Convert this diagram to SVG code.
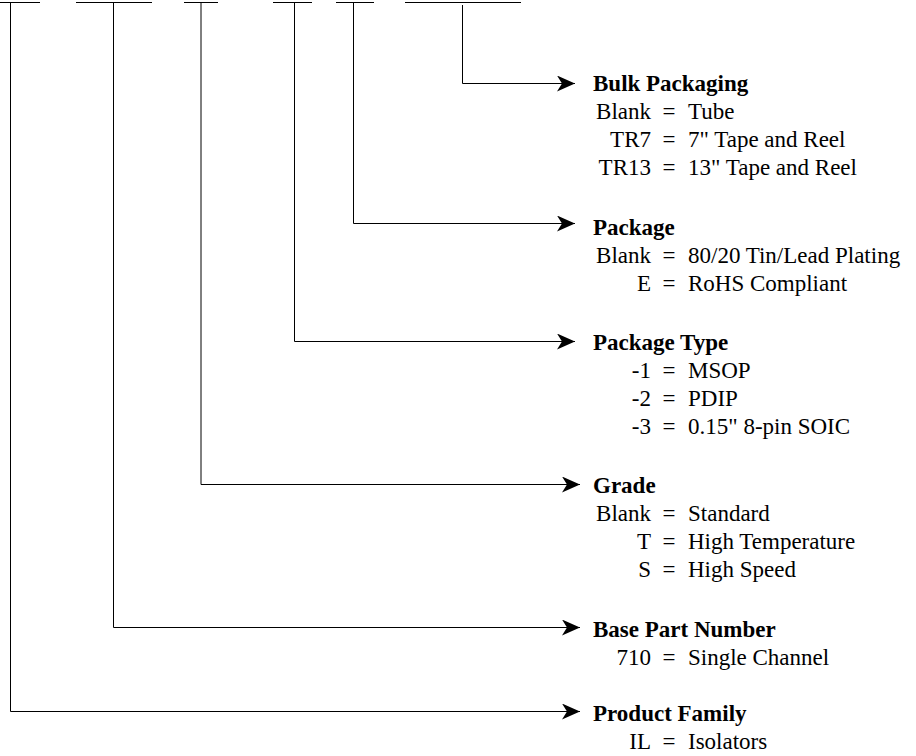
<svg xmlns="http://www.w3.org/2000/svg" width="916" height="756" viewBox="0 0 916 756">
<style>
  .ln { stroke: #000; stroke-width: 1; fill: none; }
  .arr { marker-end: url(#ah); }
  text { font-family: "Liberation Serif", "Times New Roman", serif; font-size: 23px; fill: #000; }
  .h { font-weight: bold; }
  .lab { text-anchor: end; }
  .eq { text-anchor: middle; }
</style>
<defs>
  <marker id="ah" viewBox="0 0 18 16" refX="18" refY="8" markerWidth="18" markerHeight="16" markerUnits="userSpaceOnUse" orient="auto">
    <path d="M0,0 L18,8 L0,16 L5,8 Z" fill="#000"/>
  </marker>
</defs>
<rect width="916" height="756" fill="#fff"/>
<g id="fields">
  <line class="ln" x1="0" y1="2.5" x2="40" y2="2.5"/>
  <line class="ln" x1="76" y1="2.5" x2="152" y2="2.5"/>
  <line class="ln" x1="184" y1="2.5" x2="218" y2="2.5"/>
  <line class="ln" x1="273" y1="2.5" x2="312" y2="2.5"/>
  <line class="ln" x1="336" y1="2.5" x2="374" y2="2.5"/>
  <line class="ln" x1="405" y1="2.5" x2="521" y2="2.5"/>
</g>
<g id="connectors">
  <polyline class="ln arr" points="462.5,5 462.5,83.5 575,83.5"/>
  <polyline class="ln arr" points="353.5,2.5 353.5,223.5 575,223.5"/>
  <polyline class="ln arr" points="294.5,2.5 294.5,341.5 575,341.5"/>
  <polyline class="ln arr" points="201,2.5 201,484.5 580,484.5"/>
  <polyline class="ln arr" points="113.5,2.5 113.5,627.5 580,627.5"/>
  <polyline class="ln arr" points="10.5,2.5 10.5,711.5 580,711.5"/>
</g>
<g id="bulk-packaging">
  <text class="h" x="593" y="91">Bulk Packaging</text>
  <text class="lab" x="651" y="119">Blank</text><text class="eq" x="669" y="119">=</text><text x="688" y="119">Tube</text>
  <text class="lab" x="651" y="147">TR7</text><text class="eq" x="669" y="147">=</text><text x="688" y="147">7" Tape and Reel</text>
  <text class="lab" x="651" y="175">TR13</text><text class="eq" x="669" y="175">=</text><text x="688" y="175">13" Tape and Reel</text>
</g>
<g id="package">
  <text class="h" x="593" y="235">Package</text>
  <text class="lab" x="651" y="263">Blank</text><text class="eq" x="669" y="263">=</text><text x="688" y="263">80/20 Tin/Lead Plating</text>
  <text class="lab" x="651" y="291">E</text><text class="eq" x="669" y="291">=</text><text x="688" y="291">RoHS Compliant</text>
</g>
<g id="package-type">
  <text class="h" x="593" y="350">Package Type</text>
  <text class="lab" x="651" y="378">-1</text><text class="eq" x="669" y="378">=</text><text x="688" y="378">MSOP</text>
  <text class="lab" x="651" y="406">-2</text><text class="eq" x="669" y="406">=</text><text x="688" y="406">PDIP</text>
  <text class="lab" x="651" y="434">-3</text><text class="eq" x="669" y="434">=</text><text x="688" y="434">0.15" 8-pin SOIC</text>
</g>
<g id="grade">
  <text class="h" x="593" y="493">Grade</text>
  <text class="lab" x="651" y="521">Blank</text><text class="eq" x="669" y="521">=</text><text x="688" y="521">Standard</text>
  <text class="lab" x="651" y="549">T</text><text class="eq" x="669" y="549">=</text><text x="688" y="549">High Temperature</text>
  <text class="lab" x="651" y="577">S</text><text class="eq" x="669" y="577">=</text><text x="688" y="577">High Speed</text>
</g>
<g id="base-part-number">
  <text class="h" x="593" y="637">Base Part Number</text>
  <text class="lab" x="651" y="665">710</text><text class="eq" x="669" y="665">=</text><text x="688" y="665">Single Channel</text>
</g>
<g id="product-family">
  <text class="h" x="593" y="721">Product Family</text>
  <text class="lab" x="651" y="749">IL</text><text class="eq" x="669" y="749">=</text><text x="688" y="749">Isolators</text>
</g>
</svg>
